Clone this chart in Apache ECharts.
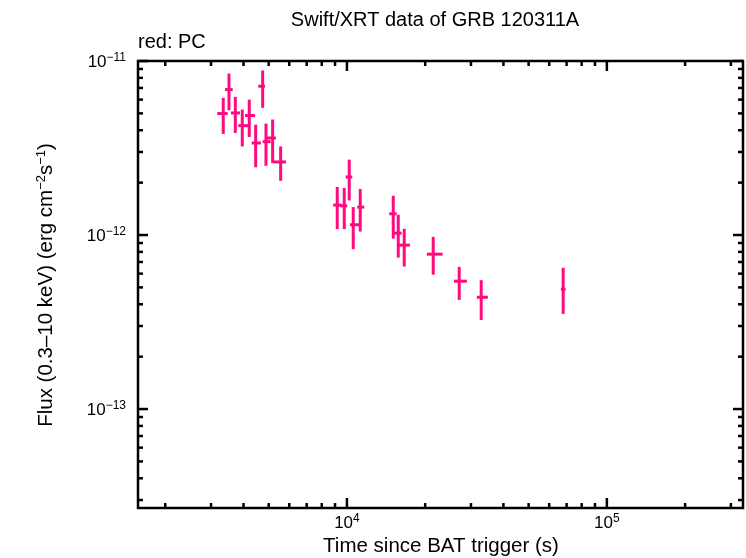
<!DOCTYPE html>
<html>
<head>
<meta charset="utf-8">
<script src="https://cdn.jsdelivr.net/npm/echarts@6/dist/echarts.min.js"></script>
<style>
	html, body { margin: 0; padding: 0; background: #fff; }
	#chart { width: 746px; height: 558px; }
</style>
</head>
<body>
<div id="chart"></div>
<script>
	// PC light curve points (time since trigger, flux) with x/y error extents
	const times  = [3343, 3517, 3720, 3957, 4209, 4455, 4740, 4881, 5178, 5559, 9177, 9764, 10205, 10573, 11250, 15073, 15755, 16611, 21476, 27035, 32851, 67897]
	const timeLo = [3171, 3395, 3579, 3819, 4053, 4300, 4559, 4740, 4912, 5238, 8857, 9399, 9886, 10268, 10955, 14548, 15205, 15895, 20311, 25794, 31623, 66539]
	const timeHi = [3477, 3634, 3877, 4209, 4428, 4669, 4837, 5087, 5333, 5827, 9542, 10027, 10481, 11289, 11654, 15535, 16232, 17472, 23344, 28937, 34846, 69363]
	const flux   = [4.99e-12, 6.85e-12, 5.03e-12, 4.25e-12, 4.86e-12, 3.38e-12, 7.16e-12, 3.44e-12, 3.61e-12, 2.63e-12, 1.486e-12, 1.472e-12, 2.155e-12, 1.145e-12, 1.447e-12, 1.324e-12, 1.025e-12, 8.75e-13, 7.76e-13, 5.43e-13, 4.39e-13, 4.88e-13]
	const fluxLo = [3.81e-12, 5.21e-12, 3.86e-12, 3.23e-12, 3.66e-12, 2.45e-12, 5.38e-12, 2.50e-12, 2.59e-12, 2.05e-12, 1.081e-12, 1.081e-12, 1.58e-12, 8.30e-13, 1.047e-12, 9.54e-13, 7.42e-13, 6.59e-13, 5.92e-13, 4.24e-13, 3.25e-13, 3.52e-13]
	const fluxHi = [6.14e-12, 8.47e-12, 6.22e-12, 5.26e-12, 6.00e-12, 4.31e-12, 8.82e-12, 4.37e-12, 4.61e-12, 3.23e-12, 1.888e-12, 1.862e-12, 2.71e-12, 1.447e-12, 1.837e-12, 1.681e-12, 1.307e-12, 1.086e-12, 9.76e-13, 6.56e-13, 5.50e-13, 6.48e-13]

	// axis ranges and ticks
	const xRange = [1571, 3.34e5]
	const yRange = [2.7e-14, 1e-11]
	const xMajor = [1e4, 1e5]
	const xMajorExp = ['4', '5']
	const xMinor = [2000, 3000, 4000, 5000, 6000, 7000, 8000, 9000, 20000, 30000, 40000, 50000, 60000, 70000, 80000, 90000, 200000, 300000]
	const yMajor = [1e-11, 1e-12, 1e-13]
	const yMajorExp = ['\u221211', '\u221212', '\u221213']
	const yMinor = [3e-14, 4e-14, 5e-14, 6e-14, 7e-14, 8e-14, 9e-14, 2e-13, 3e-13, 4e-13, 5e-13, 6e-13, 7e-13, 8e-13, 9e-13, 2e-12, 3e-12, 4e-12, 5e-12, 6e-12, 7e-12, 8e-12, 9e-12]

	const pink = '#ff0a80'
	const font = 'Liberation Sans'
	const supRich = {
		b: { fontSize: 17, lineHeight: 19, verticalAlign: 'bottom', fontFamily: font, color: '#000' },
		s: { fontSize: 12, lineHeight: 12, verticalAlign: 'top', fontFamily: font, color: '#000' }
	}

	const chart = echarts.init(document.getElementById('chart'))

	const pointData = times.map((t, i) => [t, timeLo[i], timeHi[i], flux[i], fluxLo[i], fluxHi[i]])
	const xTickData = xMajor.map((v, i) => [v, 1, i]).concat(xMinor.map((v) => [v, 0, -1]))
	const yTickData = yMajor.map((v, i) => [v, 1, i]).concat(yMinor.map((v) => [v, 0, -1]))

	const option = {
		animation: false,
		grid: {
			left: 138, right: 3, top: 61, bottom: 50,
			show: true, borderColor: '#000', borderWidth: 2.5, backgroundColor: 'transparent'
		},
		xAxis: {
			type: 'log', logBase: 10, min: xRange[0], max: xRange[1],
			axisLine: { show: false }, axisTick: { show: false }, axisLabel: { show: false }, splitLine: { show: false }
		},
		yAxis: {
			type: 'log', logBase: 10, min: yRange[0], max: yRange[1],
			axisLine: { show: false }, axisTick: { show: false }, axisLabel: { show: false }, splitLine: { show: false }
		},
		graphic: [
			{ type: 'text', x: 435, y: 20, style: { text: 'Swift/XRT data of GRB 120311A', font: '20px "Liberation Sans"', fill: '#000', align: 'center', verticalAlign: 'middle' } },
			{ type: 'text', x: 138, y: 42, style: { text: 'red: PC', font: '20px "Liberation Sans"', fill: '#000', align: 'left', verticalAlign: 'middle' } },
			{ type: 'text', x: 441, y: 546, style: { text: 'Time since BAT trigger (s)', font: '20.5px "Liberation Sans"', fill: '#000', align: 'center', verticalAlign: 'middle' } },
			{
				type: 'text', x: 46, y: 285, rotation: Math.PI / 2,
				style: {
					text: '{n|Flux (0.3\u201310 keV) (erg cm}{s|\u22122}{n|s}{s|\u22121}{n|)}',
					align: 'center', verticalAlign: 'middle',
					rich: {
						n: { fontSize: 20.5, lineHeight: 22, verticalAlign: 'bottom', fontFamily: font, color: '#000' },
						s: { fontSize: 13, lineHeight: 13, verticalAlign: 'top', fontFamily: font, color: '#000' }
					}
				}
			}
		],
		series: [
			{
				name: 'xticks', type: 'custom', silent: true, clip: false,
				data: xTickData,
				renderItem: function (params, api) {
					const cs = params.coordSys
					const p = api.coord([api.value(0), yRange[0]])
					const len = api.value(1) ? 10 : 5
					const bottom = cs.y + cs.height
					const kids = [
						{ type: 'line', shape: { x1: p[0], y1: bottom, x2: p[0], y2: bottom - len }, style: { stroke: '#000', lineWidth: 2.5 } },
						{ type: 'line', shape: { x1: p[0], y1: cs.y, x2: p[0], y2: cs.y + len }, style: { stroke: '#000', lineWidth: 2.5 } }
					]
					if (api.value(1)) {
						kids.push({
							type: 'text', x: p[0], y: bottom + 5,
							style: { text: '{b|10}{s|' + xMajorExp[api.value(2)] + '}', rich: supRich, align: 'center', verticalAlign: 'top' }
						})
					}
					return { type: 'group', children: kids }
				}
			},
			{
				name: 'yticks', type: 'custom', silent: true, clip: false,
				data: yTickData,
				renderItem: function (params, api) {
					const cs = params.coordSys
					const p = api.coord([xRange[0], api.value(0)])
					const len = api.value(1) ? 10 : 5
					const right = cs.x + cs.width
					const kids = [
						{ type: 'line', shape: { x1: cs.x, y1: p[1], x2: cs.x + len, y2: p[1] }, style: { stroke: '#000', lineWidth: 2.5 } },
						{ type: 'line', shape: { x1: right, y1: p[1], x2: right - len, y2: p[1] }, style: { stroke: '#000', lineWidth: 2.5 } }
					]
					if (api.value(1)) {
						kids.push({
							type: 'text', x: cs.x - 12, y: p[1],
							style: { text: '{b|10}{s|' + yMajorExp[api.value(2)] + '}', rich: supRich, align: 'right', verticalAlign: 'middle' }
						})
					}
					return { type: 'group', children: kids }
				}
			},
			{
				name: 'PC', type: 'custom',
				data: pointData,
				encode: { x: [0, 1, 2], y: [3, 4, 5] },
				renderItem: function (params, api) {
					const c = api.coord([api.value(0), api.value(3)])
					const l = api.coord([api.value(1), api.value(3)])
					const r = api.coord([api.value(2), api.value(3)])
					const lo = api.coord([api.value(0), api.value(4)])
					const hi = api.coord([api.value(0), api.value(5)])
					return {
						type: 'group',
						children: [
							{ type: 'line', shape: { x1: l[0], y1: c[1], x2: r[0], y2: c[1] }, style: { stroke: pink, lineWidth: 3 } },
							{ type: 'line', shape: { x1: c[0], y1: lo[1], x2: c[0], y2: hi[1] }, style: { stroke: pink, lineWidth: 3 } }
						]
					}
				}
			}
		]
	}

	chart.setOption(option)
</script>
</body>
</html>
